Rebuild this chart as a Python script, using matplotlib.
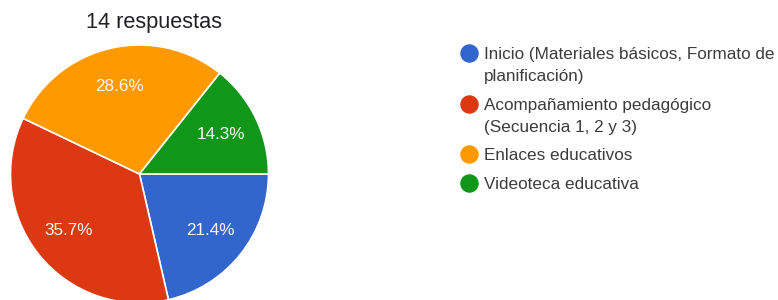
import matplotlib
matplotlib.use("Agg")
import matplotlib.pyplot as plt
from matplotlib.lines import Line2D

plt.rcParams['font.family'] = ['Liberation Sans', 'DejaVu Sans']

title = "14 respuestas"
categories = [
    ["Inicio (Materiales básicos, Formato de", "planificación)"],
    ["Acompañamiento pedagógico", "(Secuencia 1, 2 y 3)"],
    ["Enlaces educativos"],
    ["Videoteca educativa"],
]
values = [21.4, 35.7, 28.6, 14.3]
colors = ["#3366CC", "#DC3912", "#FF9900", "#109618"]

W, H = 778, 300
fig = plt.figure(figsize=(W / 100, H / 100), dpi=100)
fig.patch.set_facecolor("white")

# pie axes: square region in pixels
cx, cy, r = 139.5, 174, 129
ax = fig.add_axes([(cx - r) / W, (H - cy - r) / H, 2 * r / W, 2 * r / H])
wedges, texts, autotexts = ax.pie(
    values, colors=colors, startangle=0, counterclock=False,
    autopct=lambda p: f"{p:.1f}%", pctdistance=0.70, radius=1.0,
    wedgeprops=dict(edgecolor="white", linewidth=1.2),
    textprops=dict(color="#f8f8f8", fontsize=12.3),
)
ax.set_xlim(-1, 1)
ax.set_ylim(-1, 1)
ax.set_aspect("equal")
ax.axis("off")

fig.text(153.5 / W, 1 - 22.5 / H, title, ha="center", va="center",
         fontsize=15.7, color="#202124")

# legend, laid out by hand
fs = 12.3
marker_x, text_x = 469, 484
y = 53.0           # cap-centre of first line of first entry (px from top)
line_pitch, entry_pitch = 22.0, 28.5
cap_half = 0.716 * fs * 100 / 72 / 2
for lines, c in zip(categories, colors):
    fig.add_artist(Line2D([marker_x / W], [1 - y / H], transform=fig.transFigure,
                          marker="o", linestyle="none", markersize=12.3,
                          markerfacecolor=c, markeredgecolor=c))
    for k, ln in enumerate(lines):
        if k > 0:
            y += line_pitch
        fig.text(text_x / W, 1 - (y + cap_half) / H, ln, ha="left",
                 va="baseline", fontsize=fs, color="#3c3c3c")
    y += entry_pitch

fig.savefig("out.png", dpi=100, facecolor="white")
